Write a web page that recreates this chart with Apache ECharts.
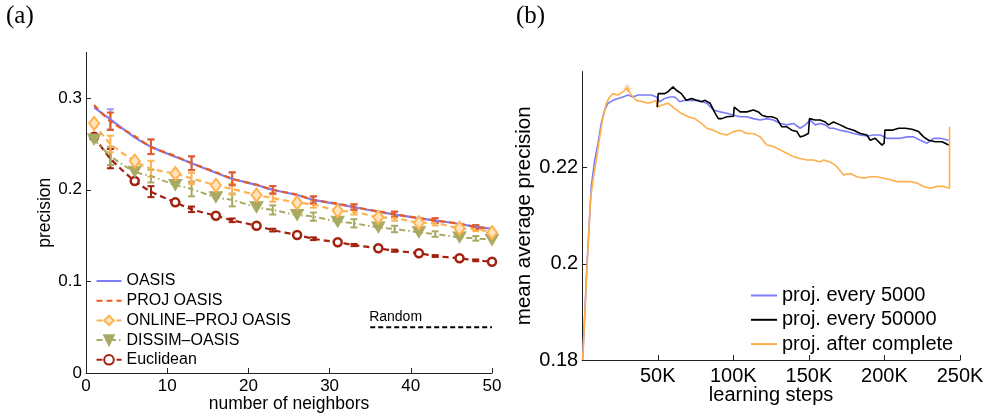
<!DOCTYPE html>
<html><head><meta charset="utf-8">
<script src="https://cdn.jsdelivr.net/npm/echarts@6/dist/echarts.min.js"></script>
<style>html,body{margin:0;padding:0;background:#fff}#c{width:986px;height:414px}</style>
</head><body><div id="c"></div>
<script>
// ---------- Panel (a) data ----------
const markerK = [1,6,11,16,21,26,31,36,41,46,50];
const errK = [3,8,13,18,23,28,33,38,43,48];
const xTicksA = [0,10,20,30,40,50];
const yTicksA = [0,0.1,0.2,0.3];

const oasisAtMarker = [0.290,0.2573,0.236,0.2187,0.2052,0.1943,0.1845,0.1761,0.1689,0.1627,0.1575];
const oasisErrMid   = [0.277,0.247,0.229,0.212,0.200,0.189,0.181,0.173,0.1665,0.1595];
const oasisErrHalf  = [0.011,0.008,0.0075,0.007,0.004,0.0035,0.003,0.003,0.0025,0.002];

const projAtMarker  = [0.2926,0.2585,0.2368,0.2192,0.2056,0.1946,0.1848,0.1764,0.1692,0.163,0.1578];
const projErrMid    = [0.2748,0.247,0.229,0.212,0.200,0.1889,0.1812,0.1732,0.1665,0.1594];
const projErrHalf   = [0.0095,0.008,0.0075,0.007,0.004,0.004,0.003,0.003,0.0025,0.002];

const onlineAtMarker = [0.2726,0.2314,0.2176,0.2049,0.1943,0.1859,0.1772,0.170,0.1641,0.158,0.1532];
const onlineErrMid   = [0.250,0.223,0.2125,0.2009,0.191,0.184,0.176,0.1692,0.1636,0.1574];
const onlineErrHalf  = [0.009,0.0087,0.006,0.006,0.004,0.0035,0.003,0.003,0.0025,0.0025];

const dissimAtMarker = [0.255,0.2198,0.2052,0.1918,0.1809,0.1725,0.1652,0.159,0.1536,0.1481,0.1452];
const dissimErrMid   = [0.237,0.215,0.2009,0.1889,0.178,0.1707,0.1634,0.1572,0.1517,0.147];
const dissimErrHalf  = [0.010,0.007,0.008,0.007,0.005,0.0045,0.0045,0.0035,0.003,0.0025];

const euclAtMarker = [0.258,0.2096,0.1863,0.1717,0.1608,0.1507,0.1427,0.1361,0.1307,0.1252,0.1215];
const euclErrMid   = [0.234,0.198,0.1787,0.1667,0.156,0.1466,0.1397,0.1335,0.1277,0.123];
const euclErrHalf  = [0.0105,0.006,0.003,0.002,0.0015,0.0015,0.0012,0.0012,0.001,0.001];

const randomX = [35,50];
const randomY = 0.05;

// ---------- Panel (b) data: [learning steps (K), mean average precision] ----------
const xTicksB = [50,100,150,200,250];
const yTicksB = [0.18,0.2,0.22];
const every5000 = [[0.3,0.180],[3.2,0.200],[6.0,0.2161],[8.3,0.2216],[10.5,0.2251],[12.6,0.2292],[14.9,0.2320],[17.1,0.2334],[20.4,0.2340],[23.7,0.2344],[27.0,0.2347],[30.3,0.2351],[33.6,0.2347],[37.0,0.2351],[41.4,0.2351],[45.8,0.2351],[49.1,0.2347],[51.3,0.2337],[54.6,0.2344],[58.0,0.2347],[61.3,0.2347],[64.6,0.2337],[67.9,0.2340],[72.3,0.2340],[76.7,0.2340],[78.0,0.2337],[82.5,0.2334],[86.8,0.2320],[91.3,0.2316],[95.7,0.2313],[100.1,0.2309],[104.5,0.2306],[108.9,0.2306],[113.3,0.2302],[117.8,0.2299],[122.2,0.2302],[126.6,0.2299],[131.0,0.2292],[135.4,0.2289],[139.8,0.2292],[144.2,0.2282],[147.6,0.2289],[150.9,0.2299],[154.2,0.2289],[157.5,0.2292],[160.8,0.2289],[163.7,0.2282],[166.3,0.2282],[170.7,0.2278],[175.2,0.2275],[179.6,0.2271],[184.0,0.2268],[188.4,0.2266],[192.8,0.2268],[197.3,0.2268],[201.7,0.2261],[206.0,0.2261],[210.5,0.2261],[214.9,0.2264],[219.3,0.2264],[223.7,0.2257],[228.2,0.2251],[232.5,0.2261],[237.0,0.2261],[242.5,0.2257]];
const every50000 = [[49.7,0.2326],[50.3,0.2354],[54.6,0.2354],[56.8,0.2358],[60.1,0.2368],[62.3,0.2361],[65.6,0.2354],[68.9,0.2340],[72.3,0.2344],[75.6,0.2340],[78.9,0.2337],[81.3,0.2340],[84.6,0.2334],[88.0,0.2313],[90.1,0.2302],[92.4,0.2302],[95.7,0.2306],[100.1,0.2307],[100.6,0.2326],[104.5,0.2316],[108.9,0.2316],[113.3,0.2320],[116.6,0.2316],[118.9,0.2309],[122.2,0.2306],[125.5,0.2306],[128.8,0.2302],[132.1,0.2285],[135.4,0.2285],[138.7,0.2278],[142.1,0.2275],[144.2,0.2264],[146.4,0.2266],[149.7,0.2271],[150.4,0.2302],[154.2,0.2299],[157.5,0.2299],[160.8,0.2295],[163.0,0.2289],[166.3,0.2295],[170.7,0.2289],[175.2,0.2282],[179.6,0.2278],[184.0,0.2271],[188.4,0.2268],[190.6,0.2257],[193.9,0.2261],[198.4,0.2247],[199.8,0.2251],[200.3,0.2278],[205.0,0.2278],[209.4,0.2282],[213.8,0.2282],[218.2,0.2280],[222.6,0.2275],[225.9,0.2264],[229.2,0.2257],[233.7,0.2254],[238.1,0.2254],[242.5,0.2247]];
const afterComplete = [[0.3,0.180],[3.3,0.200],[5.5,0.2133],[7.15,0.2174],[9.34,0.2216],[11.6,0.2264],[13.8,0.2306],[16.0,0.2334],[18.2,0.2347],[20.4,0.2354],[23.7,0.2351],[27.0,0.2358],[29.9,0.2365],[32.5,0.2351],[35.8,0.2340],[40.3,0.2337],[43.6,0.2334],[46.9,0.2337],[49.1,0.2340],[49.7,0.2326],[52.4,0.2330],[56.8,0.2334],[61.3,0.2323],[65.6,0.2313],[70.1,0.2306],[74.5,0.2302],[78.9,0.2292],[82.5,0.2282],[86.8,0.2278],[91.3,0.2271],[95.7,0.2268],[100.1,0.2275],[104.5,0.2278],[108.9,0.2271],[113.3,0.2271],[117.8,0.2264],[122.2,0.2247],[126.6,0.2244],[131.0,0.2237],[135.4,0.2230],[139.8,0.2223],[144.2,0.2219],[148.7,0.2216],[153.1,0.2216],[157.5,0.2212],[159.7,0.2216],[164.1,0.2212],[168.6,0.2202],[172.9,0.2185],[177.4,0.2188],[181.8,0.2181],[186.2,0.2178],[190.6,0.2181],[195.0,0.2181],[199.4,0.2178],[203.9,0.2175],[208.3,0.2171],[212.7,0.2171],[217.1,0.2171],[221.5,0.2168],[225.9,0.2161],[230.3,0.2157],[234.8,0.2161],[239.2,0.2161],[243.1,0.2157],[243.1,0.2285]];
const peakStar = [[29.9,0.2365]];

// ---------- helpers ----------
const FONT = 'Liberation Sans, Arial, sans-serif';
function lineData(mv, ev){
  const pts = [];
  markerK.forEach((k,i)=>pts.push({value:[k,mv[i]]}));
  errK.forEach((k,i)=>pts.push({value:[k,ev[i]], symbol:'none'}));
  pts.sort((a,b)=>a.value[0]-b.value[0]);
  return pts;
}
function errData(mid, half){ return errK.map((k,i)=>[k, mid[i]-half[i], mid[i]+half[i]]); }
function errRender(color){
  return function(params, api){
    const x = api.value(0);
    const p1 = api.coord([x, api.value(1)]), p2 = api.coord([x, api.value(2)]);
    const w = 3.5, st = {stroke: color, lineWidth: 2};
    return {type:'group', children:[
      {type:'line', shape:{x1:p1[0],y1:p1[1],x2:p2[0],y2:p2[1]}, style:st},
      {type:'line', shape:{x1:p1[0]-w,y1:p1[1],x2:p1[0]+w,y2:p1[1]}, style:st},
      {type:'line', shape:{x1:p2[0]-w,y1:p2[1],x2:p2[0]+w,y2:p2[1]}, style:st}
    ]};
  };
}
function errSeries(mid, half, color){
  return {type:'custom', xAxisIndex:0, yAxisIndex:0, renderItem: errRender(color),
    encode:{x:0, y:[1,2]}, data: errData(mid, half), silent:true};
}

const C = {
  oasis:'#7d7dfb', proj:'#e85a1e', online:'#ffb24f', dissim:'#a9aa62', eucl:'#a2210f',
  b5000:'#7b7bf6', b50000:'#000000', bafter:'#ffae4c'
};

const axisCommon = {
  axisLine:{show:true, lineStyle:{color:'#222', width:1}},
  splitLine:{show:false},
  nameMoveOverlap:false,
};

const option = {
  animation:false,
  backgroundColor:'#fff',
  textStyle:{fontFamily:FONT},
  graphic:[
    {type:'text', left:6, top:4, style:{text:'(a)', font:'25px "Liberation Serif", "Times New Roman", serif', fill:'#000'}},
    {type:'text', left:516, top:4, style:{text:'(b)', font:'25px "Liberation Serif", "Times New Roman", serif', fill:'#000'}}
  ],
  grid:[
    {left:86, top:52.4, width:406, height:320.6, outerBoundsMode:'none', containLabel:false},
    {left:582.2, top:71.5, width:377.8, height:288.5, outerBoundsMode:'none', containLabel:false}
  ],
  xAxis:[
    Object.assign({}, axisCommon, {gridIndex:0, type:'value', min:0, max:50, interval:10,
      axisTick:{show:true, inside:true, length:5, lineStyle:{color:'#222'}, customValues:xTicksA},
      axisLabel:{fontSize:17, color:'#000', margin:5, fontFamily:FONT, customValues:xTicksA},
      name:'number of neighbors', nameLocation:'middle', nameGap:31,
      nameTextStyle:{fontSize:17.5, color:'#000', verticalAlign:'middle', fontFamily:FONT}}),
    Object.assign({}, axisCommon, {gridIndex:1, type:'value', min:0, max:250, interval:50,
      axisTick:{show:true, inside:true, length:5, lineStyle:{color:'#222'}, customValues:xTicksB},
      axisLabel:{fontSize:20, color:'#000', margin:6, fontFamily:FONT, customValues:xTicksB, formatter:v=>v+'K'},
      name:'learning steps', nameLocation:'middle', nameGap:35.5,
      nameTextStyle:{fontSize:20, color:'#000', verticalAlign:'middle', fontFamily:FONT}})
  ],
  yAxis:[
    Object.assign({}, axisCommon, {gridIndex:0, type:'value', min:0, max:0.35, interval:0.1,
      axisTick:{show:true, inside:true, length:5, lineStyle:{color:'#222'}, customValues:yTicksA},
      axisLabel:{fontSize:17, color:'#000', margin:4, fontFamily:FONT, customValues:yTicksA, formatter:v=>String(+v.toFixed(2))},
      name:'precision', nameLocation:'middle', nameGap:41,
      nameTextStyle:{fontSize:17.5, color:'#000', verticalAlign:'middle', fontFamily:FONT}}),
    Object.assign({}, axisCommon, {gridIndex:1, type:'value', min:0.18, max:0.24, interval:0.02,
      axisTick:{show:true, inside:true, length:5, lineStyle:{color:'#222'}, customValues:yTicksB},
      axisLabel:{fontSize:20, color:'#000', margin:4, fontFamily:FONT, customValues:yTicksB, formatter:v=>String(+v.toFixed(2))},
      name:'mean average precision', nameLocation:'middle', nameGap:58,
      nameTextStyle:{fontSize:20.5, color:'#000', verticalAlign:'middle', fontFamily:FONT}})
  ],
  legend:[
    {orient:'vertical', left:90.5, top:268, itemWidth:25, itemHeight:12, itemGap:3.7,
     textStyle:{fontSize:16, color:'#000', fontFamily:FONT},
     data:[
       {name:'OASIS', itemStyle:{opacity:0}},
       {name:'PROJ OASIS', itemStyle:{opacity:0}},
       'ONLINE–PROJ OASIS','DISSIM–OASIS','Euclidean']},
    {orient:'vertical', left:745, top:280.5, itemWidth:26, itemHeight:12, itemGap:4.3,
     itemStyle:{opacity:0},
     textStyle:{fontSize:20, color:'#000', fontFamily:FONT},
     data:['proj. every 5000','proj. every 50000','proj. after complete']}
  ],
  series:[
    // Panel (a)
    {name:'Euclidean', type:'line', xAxisIndex:0, yAxisIndex:0, smooth:0.25,
     data: lineData(euclAtMarker, euclErrMid), showAllSymbol:true,
     symbol:'circle', symbolSize:8,
     itemStyle:{color:'#fff', borderColor:C.eucl, borderWidth:2.5},
     lineStyle:{color:C.eucl, width:2.2, type:[6,4]}},
    errSeries(euclErrMid, euclErrHalf, C.eucl),
    {name:'DISSIM–OASIS', type:'line', xAxisIndex:0, yAxisIndex:0, smooth:0.25,
     data: lineData(dissimAtMarker, dissimErrMid), showAllSymbol:true,
     symbol:'triangle', symbolRotate:180, symbolSize:[13,11],
     itemStyle:{color:C.dissim, borderColor:C.dissim, borderWidth:1},
     lineStyle:{color:C.dissim, width:2, type:[6,3,1.5,3]}},
    errSeries(dissimErrMid, dissimErrHalf, C.dissim),
    {name:'ONLINE–PROJ OASIS', type:'line', xAxisIndex:0, yAxisIndex:0, smooth:0.25,
     data: lineData(onlineAtMarker, onlineErrMid), showAllSymbol:true,
     symbol:'diamond', symbolSize:[10,13],
     itemStyle:{color:'#ffe3bd', borderColor:C.online, borderWidth:2},
     lineStyle:{color:C.online, width:2.2, type:[6,4]}},
    errSeries(onlineErrMid, onlineErrHalf, C.online),
    {name:'OASIS', type:'line', xAxisIndex:0, yAxisIndex:0, smooth:0.25,
     data: lineData(oasisAtMarker, oasisErrMid), symbol:'none',
     itemStyle:{color:C.oasis},
     lineStyle:{color:C.oasis, width:2.2, type:'solid'}},
    errSeries(oasisErrMid, oasisErrHalf, '#9c9cff'),
    {name:'PROJ OASIS', type:'line', xAxisIndex:0, yAxisIndex:0, smooth:0.25,
     data: lineData(projAtMarker, projErrMid), symbol:'none',
     itemStyle:{color:C.proj},
     lineStyle:{color:C.proj, width:2.2, type:[6,4]}},
    errSeries(projErrMid, projErrHalf, C.proj),
    {name:'Random', type:'line', xAxisIndex:0, yAxisIndex:0,
     data: [
       {value:[randomX[0], randomY], symbol:'circle', symbolSize:0.1,
        label:{show:true, position:[-1,-17], formatter:'Random', fontSize:14, color:'#000', fontFamily:FONT}},
       {value:[randomX[1], randomY], symbol:'none'}
     ],
     itemStyle:{color:'#000'},
     lineStyle:{color:'#000', width:2, type:[5,3]}},
    // Panel (b)
    {name:'proj. every 5000', type:'line', xAxisIndex:1, yAxisIndex:1, data:every5000,
     symbol:'none', itemStyle:{color:C.b5000}, lineStyle:{color:C.b5000, width:1.6}},
    {name:'proj. after complete', type:'line', xAxisIndex:1, yAxisIndex:1, data:afterComplete,
     symbol:'none', itemStyle:{color:C.bafter}, lineStyle:{color:C.bafter, width:1.6}},
    {name:'proj. every 50000', type:'line', xAxisIndex:1, yAxisIndex:1, data:every50000,
     symbol:'none', itemStyle:{color:C.b50000}, lineStyle:{color:C.b50000, width:1.6}},
    {type:'scatter', xAxisIndex:1, yAxisIndex:1, data:peakStar, silent:true,
     symbol:'path://M5,0L5,10M0,5L10,5M1.5,1.5L8.5,8.5M8.5,1.5L1.5,8.5', symbolSize:8,
     itemStyle:{color:'rgba(0,0,0,0)', borderColor:C.bafter, borderWidth:1}}
  ]
};
const chart = echarts.init(document.getElementById('c'), null, {renderer:'canvas'});
chart.setOption(option);
</script>
</body></html>
